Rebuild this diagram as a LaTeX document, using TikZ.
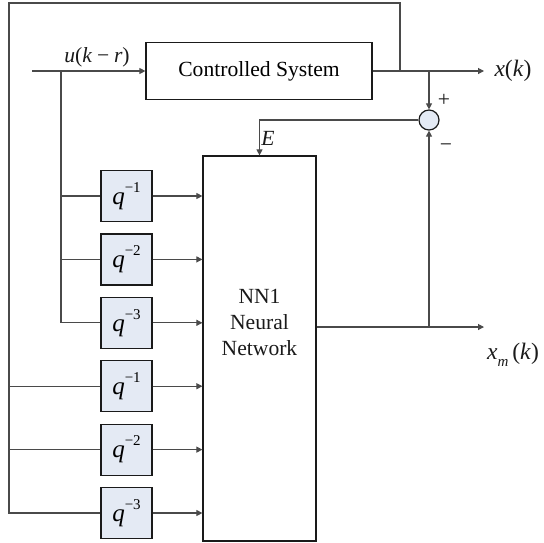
\documentclass[tikz,border=0pt]{standalone}
\usepackage{fontspec}
\setmainfont{Liberation Serif}
\usetikzlibrary{arrows.meta,positioning}
\definecolor{Ink}{HTML}{1A1A1A}
\definecolor{Wire}{HTML}{4A4A4A}
\definecolor{DelayFill}{HTML}{E4EAF4}
\newcommand{\qdelay}[1]{\textit{q}\raisebox{1.05ex}{\fontsize{7.5}{8}\selectfont −#1}}
\tikzset{
  blk/.style={draw=Ink,line width=0.6pt,fill=white,align=center,inner sep=0pt},
  delay/.style={draw=Ink,line width=0.6pt,fill=DelayFill,minimum width=25.5pt,minimum height=25.5pt,inner sep=0pt,font=\fontsize{12.5}{14}\selectfont},
  sumnode/.style={circle,draw=Ink,line width=0.6pt,fill=DelayFill,minimum size=10pt,inner sep=0pt},
  wire/.style={draw=Wire,line width=0.55pt},
  arr/.style={-{Triangle[length=3pt,width=3pt]},draw=Wire,line width=0.55pt},
  lbl/.style={inner sep=0pt,text=Ink}
}

\begin{document}
\begin{tikzpicture}[x=0.5pt,y=-0.5pt,font=\fontsize{10.8}{13}\selectfont]
  \useasboundingbox (0,0) rectangle (544,542);
  % main blocks
  \node[blk,minimum width=113pt,minimum height=28.5pt] (sys) at (259,71) {Controlled System};
  \node[blk,minimum width=56.5pt,minimum height=192.5pt] (nn) at (259.5,348.5) {};
  \node[lbl,align=center] (nnlbl) at (259.5,322) {NN1\\Neural\\Network};
  \node[sumnode] (sum) at (429,120) {};
  % delay line
  \node[delay] (d1) at (126.5,196) {\qdelay{1}};
  \node[delay,below=5.6pt of d1] (d2) {\qdelay{2}};
  \node[delay,below=5.6pt of d2] (d3) {\qdelay{3}};
  \node[delay,below=5.6pt of d3] (d4) {\qdelay{1}};
  \node[delay,below=5.6pt of d4] (d5) {\qdelay{2}};
  \node[delay,below=5.6pt of d5] (d6) {\qdelay{3}};
  % points
  \coordinate (uin) at (32,71);
  \coordinate (tapu) at (61,71);
  \coordinate (tapx) at (400,71);
  \coordinate (corner) at (9,3);
  \coordinate (tapo) at (429,71);
  \coordinate (xout) at (484,71);
  \coordinate (tapm) at (429,327);
  \coordinate (xmout) at (484,327);
  % labels
  \node[lbl] (ulbl) at (97,57) {\textit{u}(\textit{k}\:−\:\textit{r})};
  \node[lbl,font=\fontsize{11.8}{14}\selectfont] (xlbl) at (513,71) {\textit{x}(\textit{k})};
  \node[lbl,font=\fontsize{11.8}{14}\selectfont] (xmlbl) at (513,355) {\textit{x}\raisebox{-0.6ex}{\fontsize{7.5}{8}\selectfont\textit{m}}\,(\textit{k})};
  \node[lbl] (elbl) at (268,138) {\textit{E}};
  \node[lbl] (plus) at (444,100) {+};
  \node[lbl] (minus) at (446,148) {−};
  % input and delayed inputs
  \draw[arr] (uin) -- (sys);
  \draw[wire] (tapu) |- (d3);
  \draw[wire] (tapu |- d1) -- (d1);
  \draw[wire] (tapu |- d2) -- (d2);
  % fed back output
  \draw[wire] (tapx) |- (corner) |- (d6);
  \draw[wire] (corner |- d4) -- (d4);
  \draw[wire] (corner |- d5) -- (d5);
  \draw[arr] (d1) -- (d1 -| nn.west);
  \draw[arr] (d2) -- (d2 -| nn.west);
  \draw[arr] (d3) -- (d3 -| nn.west);
  \draw[arr] (d4) -- (d4 -| nn.west);
  \draw[arr] (d5) -- (d5 -| nn.west);
  \draw[arr] (d6) -- (d6 -| nn.west);
  % outputs and error
  \draw[arr] (sys) -- (xout);
  \draw[arr] (tapo) -- (sum);
  \draw[arr] (sum) -| (nn);
  \draw[arr] (nn.east |- xmout) -- (xmout);
  \draw[arr] (tapm) -- (sum);
\end{tikzpicture}
\end{document}
